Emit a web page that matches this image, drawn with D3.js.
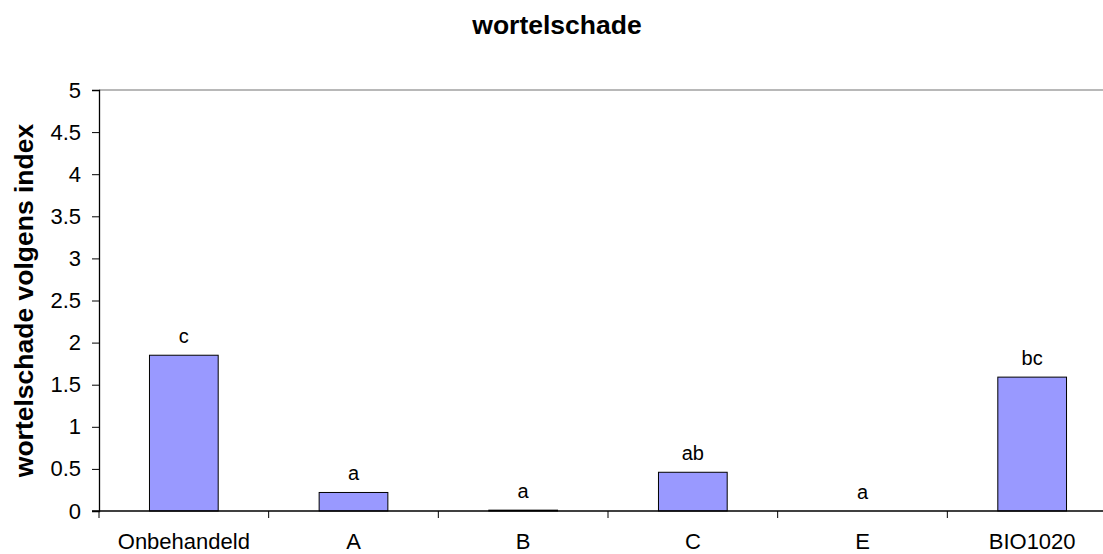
<!DOCTYPE html>
<html><head><meta charset="utf-8">
<script src="https://cdn.jsdelivr.net/npm/d3@7"></script>
<style>body{margin:0;background:#fff;}svg{display:block;font-family:"Liberation Sans",Arial,sans-serif;}</style>
</head><body>
<script>
const categories = ["Onbehandeld","A","B","C","E","BIO1020"];
const values = [1.85, 0.22, 0.01, 0.46, 0.0, 1.59];
const letters = ["c","a","a","ab","a","bc"];
const yTicks = [0,0.5,1,1.5,2,2.5,3,3.5,4,4.5,5];

const W = 1103, H = 554;
const svg = d3.select("body").append("svg").attr("width", W).attr("height", H);
const mLeft = 99, mRight = 1117, mTop = 90, mBottom = 511;
const FONT = "Liberation Sans, Arial, sans-serif";

const x = d3.scaleBand().domain(categories).range([mLeft, mRight]).paddingInner(0).paddingOuter(0);
const y = d3.scaleLinear().domain([0,5]).range([mBottom, mTop]);
const barW = x.bandwidth() * 0.405;

// top gray line
svg.append("line").attr("x1", mLeft).attr("x2", W).attr("y1", y(5)).attr("y2", y(5))
  .attr("stroke", "#a0a0a0").attr("stroke-width", 1.5);

// bars
svg.selectAll("rect.bar").data(categories).join("rect")
  .attr("x", d => x(d) + x.bandwidth()/2 - barW/2)
  .attr("y", (d,i) => y(values[i]))
  .attr("width", barW)
  .attr("height", (d,i) => y(0) - y(values[i]))
  .attr("fill", "#9999ff").attr("stroke", "#000").attr("stroke-width", 1);

// letters
svg.selectAll("text.lbl").data(categories).join("text")
  .attr("x", d => x(d) + x.bandwidth()/2)
  .attr("y", (d,i) => y(values[i]) - 12)
  .attr("text-anchor", "middle").attr("font-size", 20).text((d,i) => letters[i]);

// y axis
const yAxis = svg.append("g").attr("transform", `translate(${mLeft},0)`)
  .call(d3.axisLeft(y).tickValues(yTicks).tickSize(7).tickPadding(11).tickFormat(d3.format("")));
yAxis.select(".domain").attr("stroke", "#000").attr("stroke-width", 1.3);
yAxis.selectAll(".tick line").attr("stroke", "#000");
yAxis.selectAll(".tick text").attr("font-size", 22).attr("fill", "#000").attr("font-family", FONT);

// x axis
const xg = svg.append("g").attr("transform", `translate(0,${mBottom})`);
xg.append("line").attr("x1", mLeft - 7).attr("x2", W).attr("y1", 0).attr("y2", 0).attr("stroke", "#000").attr("stroke-width", 1.3);
xg.selectAll("line.tk").data(categories.slice(1)).join("line")
  .attr("x1", d => x(d)).attr("x2", d => x(d)).attr("y1", 0).attr("y2", 7).attr("stroke", "#000");
xg.append("line").attr("x1", mLeft).attr("x2", mLeft).attr("y1", 0).attr("y2", 7).attr("stroke", "#000");
xg.selectAll("text").data(categories).join("text")
  .attr("x", d => x(d) + x.bandwidth()/2).attr("y", 38)
  .attr("text-anchor", "middle").attr("font-size", 22).text(d => d);

// title
svg.append("text").attr("x", 557).attr("y", 34).attr("text-anchor", "middle")
  .attr("font-size", 26.5).attr("font-weight", "bold").text("wortelschade");

// y label
svg.append("text").attr("transform", `translate(33,${(mTop+mBottom)/2}) rotate(-90)`)
  .attr("text-anchor", "middle").attr("font-size", 26.5).attr("font-weight", "bold")
  .text("wortelschade volgens index");
</script>
</body></html>
